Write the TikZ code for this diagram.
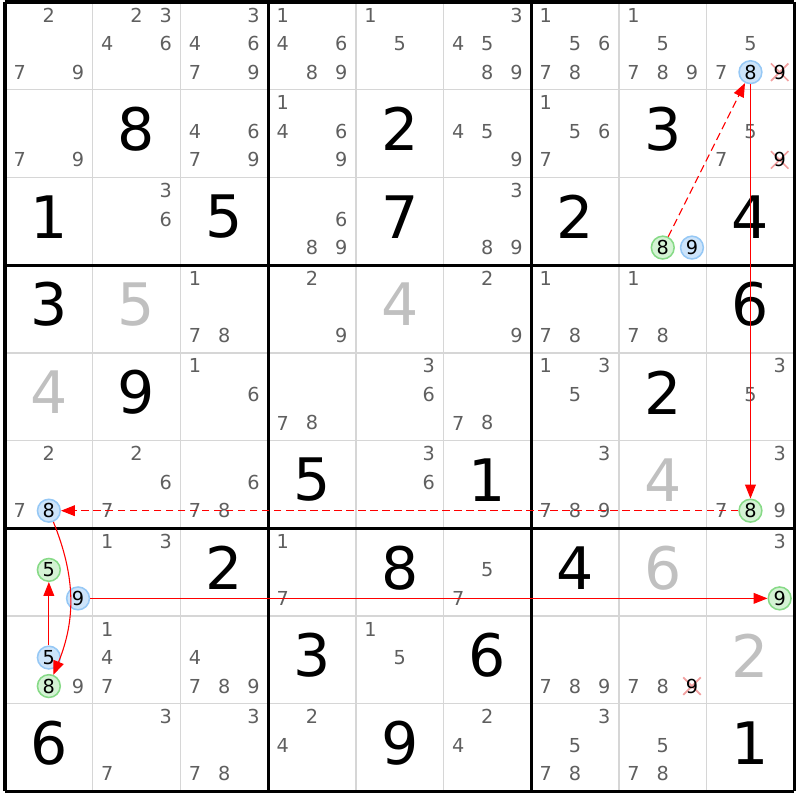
\documentclass[tikz,border=0pt]{standalone}
\usepackage{fontspec}
\setmainfont{DejaVu Sans}
\usepackage{xcolor}
\usetikzlibrary{arrows.meta,shapes.misc}

\definecolor{candgray}{RGB}{95,95,95}
\definecolor{solvedgray}{RGB}{192,192,192}
\definecolor{gridgray}{RGB}{214,214,214}
\definecolor{bluefill}{RGB}{205,228,250}
\definecolor{blueline}{RGB}{150,200,245}
\definecolor{greenfill}{RGB}{212,243,212}
\definecolor{greenline}{RGB}{135,218,135}
\definecolor{strikepink}{RGB}{242,160,160}
\definecolor{linkred}{RGB}{255,0,0}

\begin{document}
\begin{tikzpicture}[x=2cm, y=2cm, >={Triangle[length=9pt,width=7pt]},
    cand/.style={text=candgray, font=\fontsize{12.5}{12.5}\selectfont, inner sep=0pt},
    given/.style={font=\fontsize{38}{38}\selectfont, inner sep=0pt},
    solved/.style={given, text=solvedgray},
    bluecand/.style={cand, text=black, circle, draw=blueline, fill=bluefill, line width=1pt, minimum size=0.52cm},
    greencand/.style={cand, text=black, circle, draw=greenline, fill=greenfill, line width=1pt, minimum size=0.52cm},
    strike/.style={cross out, draw=strikepink, line width=1.1pt, minimum size=0.36cm, inner sep=0pt},
    link/.style={linkred, line width=0.7pt},
    weaklink/.style={link, dash pattern=on 5pt off 2.8pt}]

    \useasboundingbox (-0.057,0.023) rectangle (9.065,-9.099);

    % Grid
    \foreach \i in {1,2,4,5,7,8} {
        \draw[gridgray, line width=1pt] (\i,0) -- (\i,-9);
        \draw[gridgray, line width=1pt] (0,-\i) -- (9,-\i);
    }
    \foreach \i in {0,3,6,9} {
        \draw[line width=2pt] (\i,0) -- (\i,-9);
        \draw[line width=2pt] (0,-\i) -- (9,-\i);
    }

    % Givens
    \foreach \r/\c/\d in {2/2/8, 2/5/2, 2/8/3, 3/1/1, 3/3/5, 3/5/7, 3/7/2, 3/9/4,
        4/1/3, 4/9/6, 5/2/9, 5/8/2, 6/4/5, 6/6/1, 7/3/2, 7/5/8, 7/7/4,
        8/4/3, 8/6/6, 9/1/6, 9/5/9, 9/9/1} {
        \node[given] (g-\r-\c) at (\c-0.5,-\r+0.55) {\d};
    }

    % Solved cells
    \foreach \r/\c/\d in {4/2/5, 4/5/4, 5/1/4, 6/8/4, 7/8/6, 8/9/2} {
        \node[solved] (g-\r-\c) at (\c-0.5,-\r+0.55) {\d};
    }

    % Candidates
    \foreach \r/\c/\ds in {1/1/{2,7,9}, 1/2/{2,3,4,6}, 1/3/{3,4,6,7,9}, 1/4/{1,4,6,8,9},
        1/5/{1,5}, 1/6/{3,4,5,8,9}, 1/7/{1,5,6,7,8}, 1/8/{1,5,7,8,9}, 1/9/{5,7},
        2/1/{7,9}, 2/3/{4,6,7,9}, 2/4/{1,4,6,9}, 2/6/{4,5,9}, 2/7/{1,5,6,7}, 2/9/{5,7},
        3/2/{3,6}, 3/4/{6,8,9}, 3/6/{3,8,9},
        4/3/{1,7,8}, 4/4/{2,9}, 4/6/{2,9}, 4/7/{1,7,8}, 4/8/{1,7,8},
        5/3/{1,6}, 5/4/{7,8}, 5/5/{3,6}, 5/6/{7,8}, 5/7/{1,3,5}, 5/9/{3,5},
        6/1/{2,7}, 6/2/{2,6,7}, 6/3/{6,7,8}, 6/5/{3,6}, 6/7/{3,7,8,9}, 6/9/{3,7,9},
        7/2/{1,3}, 7/4/{1,7}, 7/6/{5,7}, 7/9/{3},
        8/1/{9}, 8/2/{1,4,7}, 8/3/{4,7,8,9}, 8/5/{1,5}, 8/7/{7,8,9}, 8/8/{7,8},
        9/2/{3,7}, 9/3/{3,7,8}, 9/4/{2,4}, 9/6/{2,4}, 9/7/{3,5,7,8}, 9/8/{5,7,8}} {
        \foreach \d in \ds {
            \pgfmathsetmacro\px{\c-0.5+(mod(\d-1,3)-1)*0.333}
            \pgfmathsetmacro\py{-\r+0.85-0.325*floor((\d-1)/3)}
            \node[cand] (c-\r-\c-\d) at (\px,\py) {\d};
        }
    }

    % Eliminated candidates
    \foreach \r/\c/\d in {1/9/9, 2/9/9, 8/8/9} {
        \pgfmathsetmacro\px{\c-0.5+(mod(\d-1,3)-1)*0.333}
        \pgfmathsetmacro\py{-\r+0.85-0.325*floor((\d-1)/3)}
        \node[strike] (x-\r-\c-\d) at (\px,\py) {};
        \node[cand, text=black] (c-\r-\c-\d) at (\px,\py) {\d};
    }

    % Chain candidates
    \foreach \r/\c/\d/\kind in {1/9/8/bluecand, 3/8/8/greencand, 3/8/9/bluecand,
        6/1/8/bluecand, 6/9/8/greencand, 7/1/5/greencand, 7/1/9/bluecand,
        7/9/9/greencand, 8/1/5/bluecand, 8/1/8/greencand} {
        \pgfmathsetmacro\px{\c-0.5+(mod(\d-1,3)-1)*0.333}
        \pgfmathsetmacro\py{-\r+0.85-0.325*floor((\d-1)/3)}
        \node[\kind] (h-\r-\c-\d) at (\px,\py) {\d};
    }

    % Links
    \draw[weaklink, ->] (h-3-8-8) -- (h-1-9-8);
    \draw[link, ->] (h-1-9-8) -- (h-6-9-8);
    \draw[weaklink, ->] (h-6-9-8) -- (h-6-1-8);
    \draw[link, ->] (h-6-1-8) to[bend left=22] (h-8-1-8);
    \draw[link, ->] (h-8-1-5) -- (h-7-1-5);
    \draw[link, ->] (h-7-1-9) -- (h-7-9-9);

\end{tikzpicture}
\end{document}
